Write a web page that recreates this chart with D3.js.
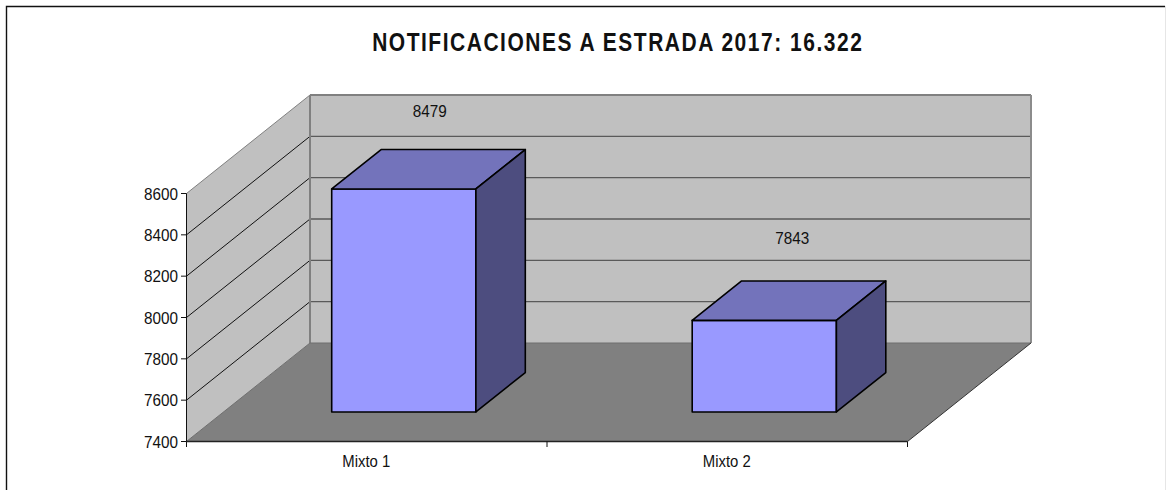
<!DOCTYPE html>
<html><head><meta charset="utf-8">
<script src="https://cdn.jsdelivr.net/npm/d3@7"></script>
<style>html,body{margin:0;padding:0;background:#fff}svg{display:block}text{font-family:"Liberation Sans",Arial,sans-serif;fill:#111}</style>
</head><body><svg id="c" width="1166" height="490"></svg>
<script>
const categories = ["Mixto 1", "Mixto 2"];
const values = [8479, 7843];
const yTicks = [7400, 7600, 7800, 8000, 8200, 8400, 8600];
const titleText = "NOTIFICACIONES A ESTRADA 2017: 16.322";

const svg = d3.select("#c");
const x = d3.scaleBand().domain(categories).range([186.5, 907.5]).padding(0);
const y = d3.scaleLinear().domain([7400, 8600]).range([441.5, 193.5]);
const depthX = d3.scaleLinear().domain([0, 1]).range([0, 123.5]);
const depthY = d3.scaleLinear().domain([0, 1]).range([0, -98.5]);
const yMin = y.domain()[0], yMax = y.domain()[1];
const [xL, xR] = x.range();
const P = (px, v, d) => [px + depthX(d), y(v) + depthY(d)];
const poly = pts => "M" + pts.map(p => p.join(",")).join("L") + "Z";
const seg = (a, b) => "M" + a.join(",") + "L" + b.join(",");
const smallText = sel => sel.attr("font-size", 16.5).attr("lengthAdjust","spacingAndGlyphs");

// frame
svg.append("path").attr("d", "M6.5,490V6.5H1165").attr("fill", "none").attr("stroke", "#111").attr("stroke-width", 1.4);
svg.append("line").attr("x1", 1165.5).attr("x2", 1165.5).attr("y1", 6).attr("y2", 490).attr("stroke", "#e6e6e6");

// walls + floor
svg.append("path").attr("d", poly([P(xL,yMin,1),P(xR,yMin,1),P(xR,yMax,1),P(xL,yMax,1)])).attr("fill", "#c0c0c0");
svg.append("path").attr("d", poly([P(xL,yMin,0),P(xL,yMin,1),P(xL,yMax,1),P(xL,yMax,0)])).attr("fill", "#c0c0c0");
svg.append("path").attr("d", poly([P(xL,yMin,0),P(xR,yMin,0),P(xR,yMin,1),P(xL,yMin,1)])).attr("fill", "#808080");

// gridlines
yTicks.slice(1).forEach(t => {
  const edge = t === yMax;
  svg.append("path").attr("d", seg(P(xL,t,1), P(xR,t,1))).attr("fill","none")
    .attr("stroke", edge ? "#808080" : "#5a5a5a").attr("stroke-width", edge ? 2 : 1.4);
  svg.append("path").attr("d", seg(P(xL,t,0), P(xL,t,1))).attr("fill","none")
    .attr("stroke", edge ? "#808080" : "#111").attr("stroke-width", 1);
});
svg.append("path").attr("d", seg(P(xL,yMin,1), P(xL,yMax,1))).attr("stroke","#808080").attr("stroke-width",2);
svg.append("path").attr("d", seg(P(xR,yMin,1), P(xR,yMax,1))).attr("stroke","#8c8c8c").attr("stroke-width",2);
svg.append("path").attr("d", seg(P(xL,yMin,1), P(xR,yMin,1))).attr("stroke","#6e6e6e").attr("stroke-width",1);
svg.append("path").attr("d", seg(P(xL,yMin,0), P(xL,yMin,1))).attr("stroke","#6e6e6e").attr("stroke-width",1);
svg.append("path").attr("d", seg(P(xR,yMin,0), P(xR,yMin,1))).attr("stroke","#333").attr("stroke-width",1);

// axes
svg.append("path").attr("d", seg(P(xL,yMin,0), P(xL,yMax,0))).attr("stroke","#111").attr("stroke-width",1);
svg.append("path").attr("d", seg(P(xL,yMin,0), P(xR,yMin,0))).attr("stroke","#222").attr("stroke-width",1.6);
yTicks.forEach(t => {
  svg.append("line").attr("x1", xL-5.5).attr("x2", xL).attr("y1", y(t)).attr("y2", y(t)).attr("stroke","#111");
  svg.append("text").attr("x", 178).attr("y", y(t)+6).attr("text-anchor","end")
    .call(smallText).attr("textLength", 34).text(t);
});
[xL, xL + x.step(), xR].forEach(px => {
  svg.append("line").attr("x1", px).attr("x2", px).attr("y1", y(yMin)).attr("y2", y(yMin)+5.5).attr("stroke","#111");
});

// bars
const bw = x.step() * 0.4, bo = x.step() * 0.3, d0 = 0.3, d1 = 0.7;
const labelLift = [32.5, 37];
const labelShift = [23.5, 21.5];
categories.forEach((c, i) => {
  const l = x(c) + bo, r = l + bw, v = values[i];
  const g = svg.append("g").attr("stroke","#000").attr("stroke-width",1.6).attr("stroke-linejoin","round");
  g.append("path").attr("fill","#9999ff").attr("d", poly([P(l,yMin,d0),P(r,yMin,d0),P(r,v,d0),P(l,v,d0)]));
  g.append("path").attr("fill","#7373bb").attr("d", poly([P(l,v,d0),P(r,v,d0),P(r,v,d1),P(l,v,d1)]));
  g.append("path").attr("fill","#4d4d7f").attr("d", poly([P(r,yMin,d0),P(r,yMin,d1),P(r,v,d1),P(r,v,d0)]));
  const [tx, ty] = P((l+r)/2, v, d1);
  svg.append("text").attr("x", tx-labelShift[i]).attr("y", ty-labelLift[i]).attr("text-anchor","middle")
    .call(smallText).attr("textLength", 34).text(v);
  svg.append("text").attr("x", x(c)+x.step()/2 - 0.5).attr("y", 467).attr("text-anchor","middle")
    .call(smallText).attr("textLength", 48).text(c);
});

// title: narrowed glyphs with open letter spacing
svg.append("text").attr("transform", "translate(617,51) scale(0.84,1)").attr("text-anchor","middle").attr("font-weight","bold")
  .attr("font-size", 25).attr("textLength", 583).attr("lengthAdjust","spacing").text(titleText);
</script></body></html>
